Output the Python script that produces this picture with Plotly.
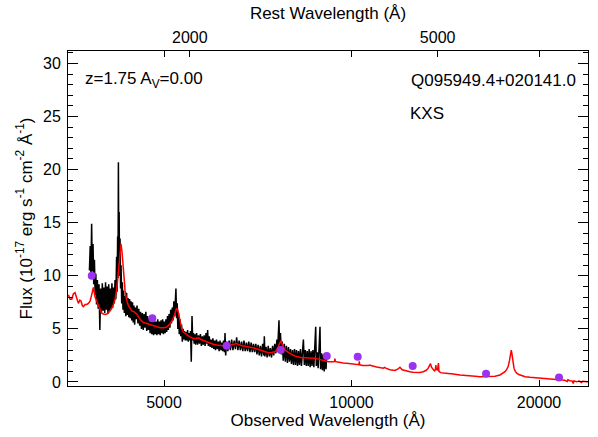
import plotly.graph_objects as go
import math

# ---------------- data ----------------
z = 1.75
av = 0.00
name = "Q095949.4+020141.0"
survey = "KXS"

obs_wave = [3795, 3806, 3816, 3826, 3836, 3846, 3856, 3866, 3876, 3886, 3896, 3908, 3920, 3932, 3944, 3956,
            3968, 3980, 3992, 4004, 4016, 4028, 4040, 4052, 4064, 4076, 4088, 4100, 4112, 4124, 4136, 4148,
            4160, 4172, 4184, 4196, 4204, 4212, 4218, 4224, 4230, 4236, 4242, 4250, 4258, 4266, 4276, 4286,
            4296, 4306, 4318, 4330, 4342, 4354, 4366, 4378, 4390, 4402, 4414, 4426, 4438, 4450, 4462, 4474,
            4486, 4498,
            4510, 4525, 4540, 4555, 4570, 4585, 4600, 4615, 4630, 4645, 4660, 4675, 4690, 4705, 4720, 4735,
            4750, 4765, 4780, 4795, 4810, 4825, 4840, 4855, 4870, 4885, 4900, 4915, 4930, 4945, 4960, 4975,
            4990, 5005, 5020, 5035, 5050, 5065, 5080, 5095, 5110, 5125, 5140, 5155, 5170, 5185, 5200, 5212,
            5225, 5238, 5250, 5262, 5275, 5290, 5305, 5320, 5335, 5350, 5365, 5380, 5395, 5410, 5425, 5440,
            5455, 5470, 5485, 5500, 5515, 5530, 5545, 5560, 5575, 5590, 5605,
            5620, 5640, 5660, 5680, 5700, 5720, 5740, 5760, 5780, 5800, 5820, 5840, 5860, 5875, 5890, 5910,
            5930, 5950, 5970, 5990, 6010, 6030, 6050, 6070, 6090, 6110, 6130, 6150, 6170, 6190, 6210,
            6230, 6250, 6265, 6280, 6300, 6330, 6360, 6390, 6420, 6450, 6480, 6510, 6540, 6570, 6600, 6630,
            6660, 6690, 6720, 6750, 6780, 6810, 6840, 6870, 6900, 6930, 6960, 6990, 7020, 7050, 7080, 7110,
            7140, 7170, 7200, 7230, 7245, 7260, 7290, 7320, 7350, 7380, 7410, 7440, 7470, 7500, 7530, 7560,
            7590, 7610, 7630, 7648, 7665, 7690, 7715, 7740, 7770, 7800, 7830, 7860, 7890, 7920, 7950, 7980,
            8010, 8040, 8070, 8100, 8130, 8160, 8190, 8220, 8250, 8280, 8310, 8340, 8370, 8400, 8430, 8460,
            8490, 8520, 8550, 8580, 8610, 8640, 8670, 8700, 8730, 8760, 8780, 8810, 8840, 8870, 8900, 8920,
            8950, 8980, 9010, 9040, 9070, 9100, 9120]

obs_flux = [10.5, 12.8, 10.2, 14.9, 10.4, 13.0, 9.2, 11.5, 8.2, 10.2, 7.3, 9.6, 6.9, 9.2, 4.9, 8.8,
            6.6, 9.3, 6.7, 8.9, 6.5, 9.4, 6.8, 9.0, 6.4, 9.2, 6.7, 8.8, 6.9, 9.3, 7.0, 8.9,
            7.4, 9.6, 7.8, 11.8, 8.5, 13.7, 9.8, 20.7, 12.0, 16.0, 10.0, 13.5, 8.8, 11.0, 7.4, 9.4,
            6.8, 8.6, 6.5, 8.1, 6.2, 8.4, 6.3, 7.9, 6.1, 7.8, 6.0, 7.6, 5.8, 7.5, 5.6, 7.2,
            5.4, 7.0,
            5.9, 7.2, 5.5, 6.9, 5.3, 6.6, 5.0, 6.5, 4.9, 6.4, 5.1, 6.6, 4.8, 6.2, 4.9, 6.0,
            4.6, 5.9, 4.5, 5.8, 4.4, 5.8, 4.5, 5.7, 4.4, 5.9, 4.5, 5.7, 4.4, 5.8, 4.6, 5.9,
            4.5, 5.7, 4.6, 5.9, 4.7, 6.2, 4.9, 6.4, 5.1, 6.8, 5.5, 7.0, 5.8, 7.6, 6.2, 8.2,
            8.8, 6.0, 7.4, 5.0, 6.5, 4.5, 5.9, 4.3, 5.4, 3.8, 5.0, 4.0, 4.8, 3.9, 4.7, 3.9,
            4.9, 3.8, 4.6, 3.9, 4.8, 1.9, 6.2, 3.9, 4.6, 3.6, 4.5,
            3.5, 4.6, 3.5, 4.4, 3.6, 4.5, 3.4, 4.3, 3.5, 4.4, 3.4, 4.6, 3.6, 4.9, 3.4, 4.3,
            3.3, 4.0, 3.2, 4.1, 3.1, 3.9, 3.0, 4.0, 3.1, 3.8, 2.9, 3.9, 3.0, 3.7, 2.9,
            3.9, 2.8, 4.6, 2.5, 3.8, 2.9, 3.9, 3.0, 4.0, 3.0, 3.9, 3.1, 4.2, 3.0, 3.9, 3.0,
            3.8, 2.9, 3.9, 2.9, 3.7, 2.9, 3.8, 2.8, 3.7, 2.8, 3.6, 2.8, 3.6, 2.6, 3.5, 2.5,
            3.4, 2.4, 3.6, 2.5, 4.3, 2.4, 3.3, 2.3, 3.4, 2.4, 3.2, 2.3, 3.4, 2.5, 3.6, 2.7,
            4.0, 3.0, 4.8, 5.8, 3.2, 4.6, 2.6, 3.8, 2.0, 3.6, 1.9, 3.4, 1.8, 3.3, 1.9, 3.1,
            1.7, 3.0, 1.6, 3.1, 1.6, 3.0, 1.5, 2.9, 1.6, 3.1, 1.5, 2.9, 4.0, 1.6, 3.0, 1.5,
            2.9, 1.5, 3.1, 1.4, 2.9, 1.5, 3.0, 1.4, 2.9, 5.2, 1.5, 2.8, 1.3, 2.9, 5.2, 1.2,
            2.7, 1.1, 2.6, 1.0, 2.7, 1.2, 2.3]

model_wave = [3511, 3533, 3555, 3577, 3599, 3621, 3643, 3662, 3680, 3696, 3711, 3735, 3758, 3780, 3804, 3830,
              3851, 3875, 3899, 3925, 3947, 3970, 3996, 4020, 4046, 4070, 4096, 4120, 4146, 4172, 4198, 4220,
              4238, 4252, 4265, 4280, 4302, 4318, 4329, 4350, 4382, 4410, 4438, 4480, 4521, 4576, 4632, 4690,
              4748, 4800, 4867, 4930, 4987, 5040, 5080, 5120, 5144, 5180, 5208, 5235, 5260, 5285, 5305, 5340,
              5370, 5420, 5470, 5520, 5572, 5620, 5676, 5730, 5782, 5860, 5927, 6000, 6075, 6150, 6225, 6265,
              6340, 6423, 6480, 6543, 6600, 6665, 6750, 6829, 6910, 7000, 7090, 7175, 7260, 7352, 7450, 7536,
              7600, 7648, 7680, 7705, 7735, 7771, 7840, 7916, 8010, 8114, 8210, 8317, 8420, 8522, 8630, 8736,
              8850, 8955, 9060, 9176, 9347, 9390, 9406, 9420, 9500, 9581, 9700, 9821, 9950, 10066, 10200, 10280,
              10292, 10305, 10420, 10577, 10650, 10706, 10780, 10974, 11100, 11245, 11300, 11350, 11527, 11650,
              11742, 11860, 11960, 12060, 12184, 12300, 12411, 12550, 12722, 12880, 13036, 13180, 13279, 13340,
              13390, 13440, 13527, 13600, 13640, 13660, 13680, 13740, 13770, 13790, 13815, 13901, 14050, 14213,
              14564, 14929, 15200, 15493, 15800, 16077, 16400, 16684, 17000, 17313, 17500, 17636, 17760, 17853,
              17930, 17990, 18052, 18100, 18145, 18190, 18233, 18320, 18416, 18560, 18759, 19000, 19344, 19700,
              20071, 20450, 20827, 21200, 21611, 22000, 22200, 22250, 22425, 22600, 22700, 22750, 22988, 23200,
              23400, 23500, 23854, 24000]

model_flux = [8.2, 7.8, 7.8, 8.3, 8.4, 7.9, 7.4, 7.7, 7.6, 7.2, 7.1, 7.3, 7.3, 7.4, 7.6, 8.3,
              8.9, 8.0, 7.6, 7.1, 6.8, 6.5, 6.4, 6.35, 6.4, 6.5, 6.7, 6.9, 7.3, 7.8, 8.7, 10.0,
              11.3, 12.4, 13.0, 12.3, 11.0, 9.5, 8.6, 7.8, 7.2, 6.9, 6.7, 6.6, 6.4, 5.9, 5.6, 5.5,
              5.4, 5.35, 5.2, 5.1, 5.1, 5.15, 5.3, 5.5, 5.7, 6.1, 6.5, 6.9, 6.8, 6.2, 5.7, 5.0,
              4.7, 4.5, 4.35, 4.2, 4.1, 4.1, 4.15, 4.0, 3.9, 3.75, 3.64, 3.55, 3.48, 3.44, 3.42, 3.39,
              3.42, 3.48, 3.55, 3.62, 3.5, 3.4, 3.37, 3.33, 3.25, 3.17, 3.06, 2.95, 2.85, 2.76, 2.78, 2.85,
              3.1, 3.45, 3.75, 3.9, 3.6, 3.3, 2.95, 2.76, 2.6, 2.45, 2.36, 2.29, 2.29, 2.29, 2.26, 2.23,
              2.15, 2.07, 2.0, 1.91, 1.91, 1.93, 2.2, 1.92, 1.87, 1.82, 1.79, 1.76, 1.72, 1.66, 1.63, 1.62,
              1.95, 1.62, 1.56, 1.52, 1.56, 1.6, 1.52, 1.4, 1.36, 1.3, 1.38, 1.3, 1.16, 1.1,
              1.08, 1.2, 1.38, 1.15, 1.06, 1.01, 0.97, 0.92, 0.88, 0.9, 0.97, 1.1, 1.3, 1.55,
              1.72, 1.4, 1.12, 1.0, 1.25, 1.6, 1.2, 1.1, 1.5, 1.78, 1.0, 0.88, 0.84, 0.82,
              0.75, 0.66, 0.6, 0.56, 0.53, 0.5, 0.5, 0.5, 0.55, 0.66, 0.8, 0.97, 1.2, 1.5,
              2.0, 2.6, 3.0, 2.6, 2.2, 1.7, 1.3, 1.0, 0.82, 0.7, 0.6, 0.5, 0.44, 0.4,
              0.35, 0.31, 0.28, 0.24, 0.19, 0.16, 0.05, 0.2, 0.12, 0.1, -0.15, 0.1, 0.03, 0.08,
              -0.05, 0.06, 0.03, 0.03]

phot_wave = [3828, 4788, 6303, 7697, 9125, 10231, 12538, 16443, 21535]
phot_flux = [10.0, 6.0, 3.4, 3.0, 2.45, 2.38, 1.5, 0.78, 0.41]

obs_ticks = [5000, 10000, 20000]
rest_ticks = [2000, 5000]
y_ticks = [0, 5, 10, 15, 20, 25, 30]
x_range = [3506, 23970]
y_range = [-0.38, 31.17]

# ---------------- figure ----------------
FONT = "Liberation Sans, Arial, Helvetica, sans-serif"
fig = go.Figure()

fig.add_trace(go.Scatter(x=obs_wave, y=obs_flux, mode="lines",
                         line=dict(color="black", width=1.5), showlegend=False, hoverinfo="skip"))
fig.add_trace(go.Scatter(x=model_wave, y=model_flux, mode="lines",
                         line=dict(color="#ff0000", width=1.5), showlegend=False, hoverinfo="skip"))
fig.add_trace(go.Scatter(x=phot_wave, y=phot_flux, mode="markers", xaxis="x2",
                         marker=dict(color="#9a32ee", size=8, line=dict(width=0)),
                         showlegend=False))

# top axis ticks: rest-frame labels placed at observed positions
top_vals = [r * (1 + z) for r in rest_ticks] + obs_ticks
top_text = [str(r) for r in rest_ticks] + ["" for _ in obs_ticks]

lrange = [math.log10(x_range[0]), math.log10(x_range[1])]

fig.update_layout(
    width=598, height=437,
    margin=dict(l=68, r=10, t=51, b=51),
    paper_bgcolor="white", plot_bgcolor="white",
    font=dict(family=FONT, size=16, color="black"),
    xaxis=dict(type="log", range=lrange, tickvals=obs_ticks, ticktext=[str(t) for t in obs_ticks],
               ticks="inside", ticklen=6, tickwidth=1, tickcolor="black", ticklabelstandoff=2,
               showline=True, linecolor="black", linewidth=1, mirror=True,
               showgrid=False, zeroline=False, automargin=False,
               title=dict(text="Observed Wavelength (Å)", font=dict(size=17), standoff=2),
               tickfont=dict(size=16)),
    xaxis2=dict(type="log", range=lrange, overlaying="x", side="top", anchor="y",
                tickvals=top_vals, ticktext=top_text,
                ticks="inside", ticklen=6, tickwidth=1, tickcolor="black", ticklabelstandoff=4,
                showline=False, showgrid=False, zeroline=False, automargin=False,
                title=dict(text="Rest Wavelength (Å)", font=dict(size=17), standoff=4),
                tickfont=dict(size=16)),
    yaxis=dict(range=y_range, tickvals=y_ticks,
               ticks="inside", ticklen=10, tickwidth=1, tickcolor="black", ticklabelstandoff=3,
               minor=dict(dtick=1, tick0=0, ticks="inside", ticklen=5, tickcolor="black", tickwidth=1),
               showline=True, linecolor="black", linewidth=1, mirror="ticks",
               showgrid=False, zeroline=False, automargin=False,
               title=dict(text="Flux (10<sup>-17</sup> erg s<sup>-1</sup> cm<sup>-2</sup> Å<sup>-1</sup>)",
                          font=dict(size=17), standoff=6),
               tickfont=dict(size=16)),
)

fig.add_annotation(x=0.0288, y=0.9134, xref="paper", yref="paper", xanchor="left", yanchor="middle",
                   text=f"z={z:.2f} A<sub>V</sub>={av:.2f}", showarrow=False, font=dict(size=17))
fig.add_annotation(x=0.9808, y=0.9134, xref="paper", yref="paper", xanchor="right", yanchor="middle",
                   text=name, showarrow=False, font=dict(size=17))
fig.add_annotation(x=0.6538, y=0.8149, xref="paper", yref="paper", xanchor="left", yanchor="middle",
                   text=survey, showarrow=False, font=dict(size=17))

fig.write_html("out.html")
